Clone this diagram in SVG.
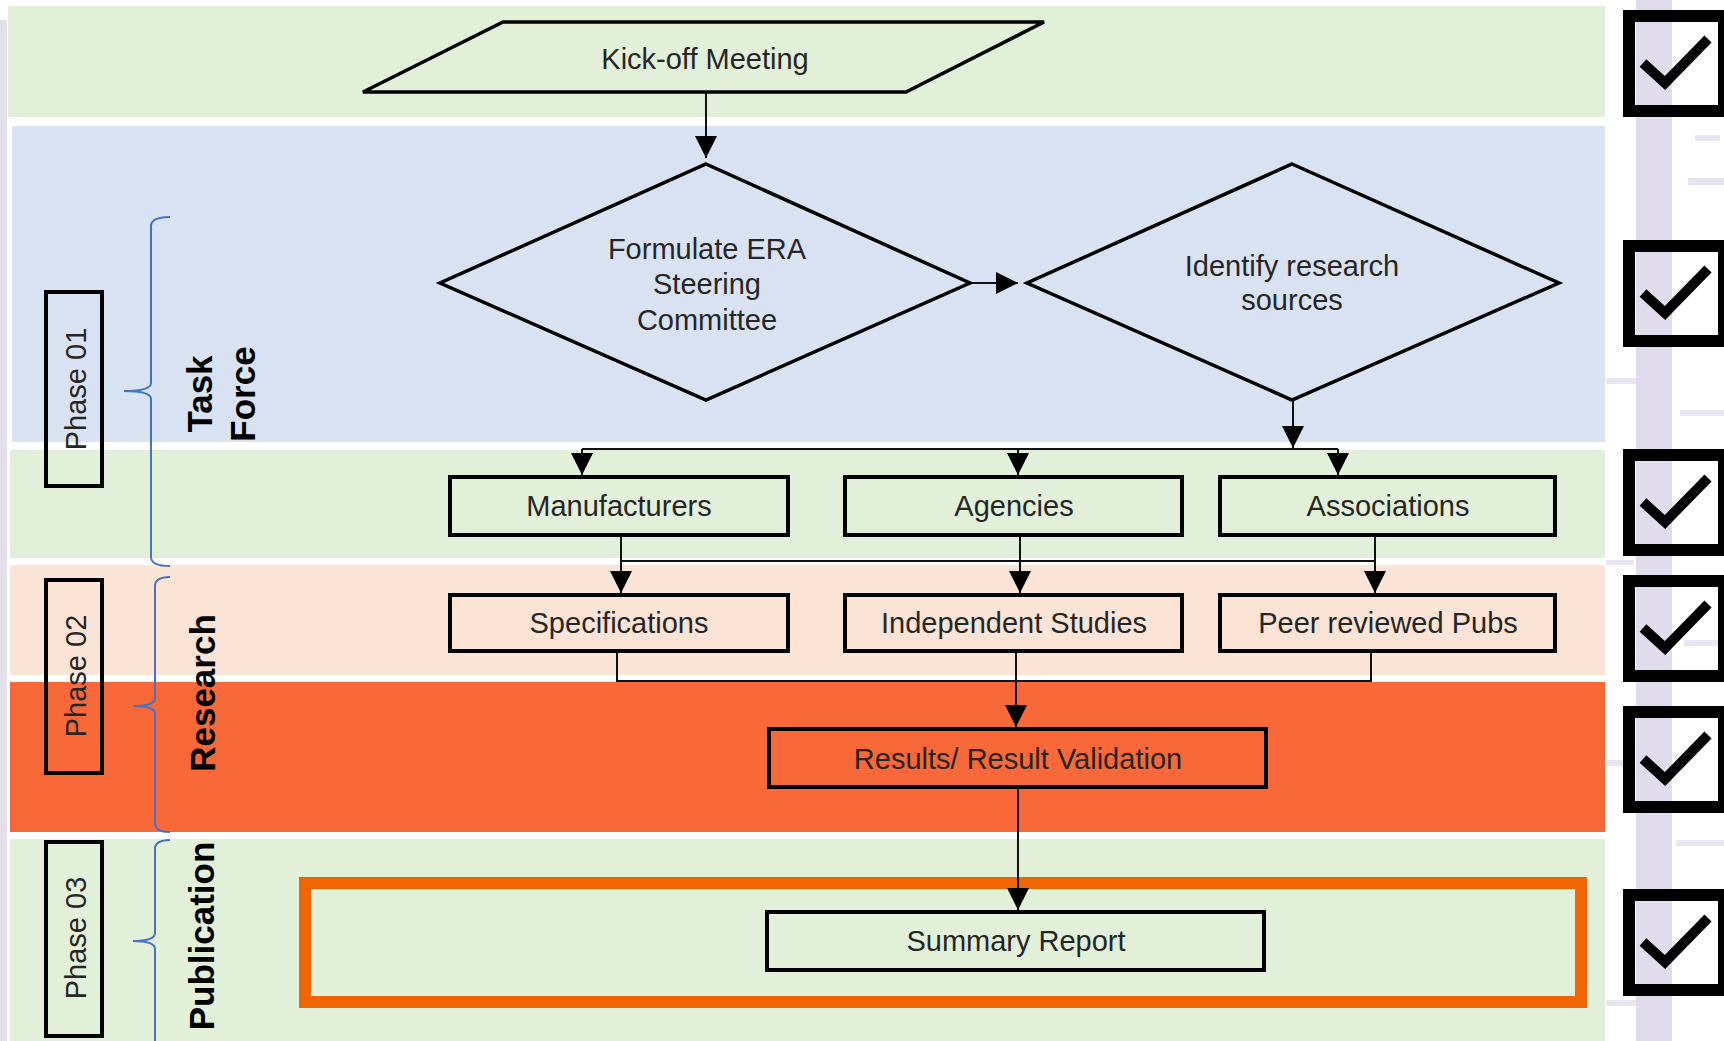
<svg xmlns="http://www.w3.org/2000/svg" width="1724" height="1041" viewBox="0 0 1724 1041">
<style>
.lbl{font-family:"Liberation Sans",Arial,sans-serif;font-size:29px;fill:#262626;text-anchor:middle}
.bold{font-family:"Liberation Sans",Arial,sans-serif;font-size:35px;font-weight:bold;fill:#000;text-anchor:middle}
.shp{fill:none;stroke:#000;stroke-width:4}
.dia{fill:none;stroke:#000;stroke-width:3.5;stroke-linejoin:miter}
.conn{fill:none;stroke:#111;stroke-width:2}
.brace{fill:none;stroke:#4472c4;stroke-width:2}
.cb{fill:none;stroke:#000;stroke-width:12}
.chk{fill:none;stroke:#000;stroke-width:10;stroke-linejoin:miter;stroke-linecap:butt}
.lav{fill:#dcd6e8}
</style>
<defs>
<marker id="ah" markerUnits="userSpaceOnUse" markerWidth="22" markerHeight="22" refX="22" refY="11" orient="auto">
<path d="M0,0 L22,11 L0,22 z" fill="#000"/>
</marker>
</defs>
<rect width="1724" height="1041" fill="#fff"/>
<g id="backdrop">
<rect x="0" y="20" width="7" height="1021" fill="#e4e0ec"/>
<rect class="lav" x="1636" y="0" width="36" height="1041" opacity="0.85"/>
<rect class="lav" x="1688" y="178" width="36" height="7" opacity="0.7"/>
<rect class="lav" x="1695" y="135" width="25" height="6" opacity="0.6"/>
<rect class="lav" x="1606" y="378" width="30" height="6" opacity="0.6"/>
<rect class="lav" x="1680" y="410" width="44" height="6" opacity="0.6"/>
<rect class="lav" x="1606" y="560" width="28" height="5" opacity="0.6"/>
<rect class="lav" x="1684" y="640" width="40" height="6" opacity="0.6"/>
<rect class="lav" x="1606" y="760" width="25" height="6" opacity="0.6"/>
<rect class="lav" x="1676" y="840" width="48" height="6" opacity="0.6"/>
<rect class="lav" x="1606" y="1000" width="30" height="6" opacity="0.6"/>
</g>
<g id="bands">
<rect x="8" y="6" width="1597" height="111" fill="#e2efd9"/>
<rect x="12" y="126" width="1593" height="316" fill="#d9e2f3"/>
<rect x="10" y="450" width="1595" height="108" fill="#e2efd9"/>
<rect x="10" y="565" width="1595" height="110" fill="#fbe4d5"/>
<rect x="10" y="682" width="1595" height="150" fill="#f86838"/>
<rect x="10" y="839" width="1595" height="202" fill="#e2efd9"/>
</g>
<g id="phase01">
<rect class="shp" x="46" y="292" width="56" height="194"/>
<text class="lbl" transform="translate(86,389) rotate(-90)">Phase 01</text>
<path class="brace" d="M170,217 Q151,217 151,226 V383 Q151,391 124,391 Q151,391 151,399 V557 Q151,566 170,566"/>
<text class="bold" transform="translate(212,394) rotate(-90)">Task</text>
<text class="bold" transform="translate(255,394) rotate(-90)">Force</text>
</g>
<g id="phase02">
<rect class="shp" x="46" y="580" width="56" height="193"/>
<text class="lbl" transform="translate(86,676) rotate(-90)">Phase 02</text>
<path class="brace" d="M170,577 Q155,577 155,586 V698 Q155,706 133,706 Q155,706 155,714 V823 Q155,832 170,832"/>
<text class="bold" transform="translate(215,693) rotate(-90)">Research</text>
</g>
<g id="phase03">
<rect class="shp" x="46" y="842" width="56" height="194"/>
<text class="lbl" transform="translate(86,938) rotate(-90)">Phase 03</text>
<path class="brace" d="M170,840 Q155,840 155,849 V933 Q155,941 133,941 Q155,941 155,949 V1045"/>
<text class="bold" transform="translate(214,936) rotate(-90)">Publication</text>
</g>
<g id="highlight">
<rect x="305" y="883" width="1276" height="119" fill="none" stroke="#f06500" stroke-width="12"/>
</g>
<g id="connectors">
<line class="conn" x1="706" y1="92" x2="706" y2="158" marker-end="url(#ah)"/>
<line class="conn" x1="970" y1="283" x2="1018" y2="283" marker-end="url(#ah)"/>
<line class="conn" x1="1293" y1="400" x2="1293" y2="448" marker-end="url(#ah)"/>
<polyline class="conn" points="582,449 1338,449"/>
<line class="conn" x1="582" y1="449" x2="582" y2="475" marker-end="url(#ah)"/>
<line class="conn" x1="1018" y1="449" x2="1018" y2="475" marker-end="url(#ah)"/>
<line class="conn" x1="1338" y1="449" x2="1338" y2="475" marker-end="url(#ah)"/>
<line class="conn" x1="621" y1="561" x2="1375" y2="561"/>
<line class="conn" x1="621" y1="537" x2="621" y2="593" marker-end="url(#ah)"/>
<line class="conn" x1="1020" y1="537" x2="1020" y2="593" marker-end="url(#ah)"/>
<line class="conn" x1="1375" y1="537" x2="1375" y2="593" marker-end="url(#ah)"/>
<polyline class="conn" points="617,653 617,681 1371,681 1371,653"/>
<line class="conn" x1="1016" y1="653" x2="1016" y2="727" marker-end="url(#ah)"/>
<line class="conn" x1="1018" y1="789" x2="1018" y2="910" marker-end="url(#ah)"/>
</g>
<g id="kickoff">
<polygon class="dia" points="503,22 1044,22 906,92 363,92" stroke-width="4"/>
<text class="lbl" x="705" y="69">Kick-off Meeting</text>
</g>
<g id="formulate">
<polygon class="dia" points="706,164 970,283 706,400 440,283"/>
<text class="lbl" x="707" y="259">Formulate ERA</text>
<text class="lbl" x="707" y="294">Steering</text>
<text class="lbl" x="707" y="330">Committee</text>
</g>
<g id="identify">
<polygon class="dia" points="1292,164 1559,283 1292,400 1027,283"/>
<text class="lbl" x="1292" y="276">Identify research</text>
<text class="lbl" x="1292" y="310">sources</text>
</g>
<g id="manufacturers">
<rect class="shp" x="450" y="477" width="338" height="58"/>
<text class="lbl" x="619" y="516">Manufacturers</text>
</g>
<g id="agencies">
<rect class="shp" x="845" y="477" width="337" height="58"/>
<text class="lbl" x="1014" y="516">Agencies</text>
</g>
<g id="associations">
<rect class="shp" x="1220" y="477" width="335" height="58"/>
<text class="lbl" x="1388" y="516">Associations</text>
</g>
<g id="specifications">
<rect class="shp" x="450" y="595" width="338" height="56"/>
<text class="lbl" x="619" y="633">Specifications</text>
</g>
<g id="independent">
<rect class="shp" x="845" y="595" width="337" height="56"/>
<text class="lbl" x="1014" y="633">Independent Studies</text>
</g>
<g id="peer">
<rect class="shp" x="1220" y="595" width="335" height="56"/>
<text class="lbl" x="1388" y="633">Peer reviewed Pubs</text>
</g>
<g id="results">
<rect class="shp" x="769" y="729" width="497" height="58"/>
<text class="lbl" x="1018" y="769">Results/ Result Validation</text>
</g>
<g id="summary">
<rect class="shp" x="767" y="912" width="497" height="58"/>
<text class="lbl" x="1016" y="951">Summary Report</text>
</g>
<g id="checkbox1"><rect class="cb" x="1629" y="16" width="95" height="95"/><polyline class="chk" points="1643,63 1665,83 1708,39"/></g>
<g id="checkbox2"><rect class="cb" x="1629" y="246" width="95" height="95"/><polyline class="chk" points="1643,293 1665,313 1708,269"/></g>
<g id="checkbox3"><rect class="cb" x="1629" y="455" width="95" height="95"/><polyline class="chk" points="1643,502 1665,522 1708,478"/></g>
<g id="checkbox4"><rect class="cb" x="1629" y="581" width="95" height="95"/><polyline class="chk" points="1643,628 1665,648 1708,604"/></g>
<g id="checkbox5"><rect class="cb" x="1629" y="712" width="95" height="95"/><polyline class="chk" points="1643,759 1665,779 1708,735"/></g>
<g id="checkbox6"><rect class="cb" x="1629" y="895" width="95" height="95"/><polyline class="chk" points="1643,942 1665,962 1708,918"/></g>
</svg>
